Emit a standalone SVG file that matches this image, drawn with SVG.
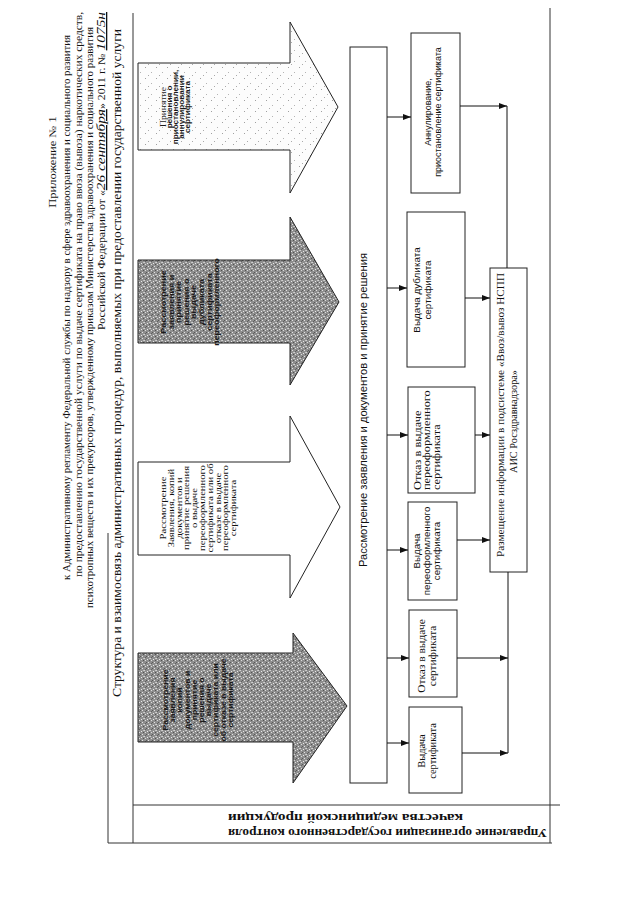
<svg xmlns="http://www.w3.org/2000/svg" width="640" height="905" viewBox="0 0 640 905">
<style>
.frame{stroke:#333;stroke-width:1;fill:none}
.box{fill:#fff;stroke:#222;stroke-width:1}
.conn{stroke:#111;stroke-width:1;fill:none}
.arr{marker-end:url(#ah)}
.serif{font-family:"Liberation Serif","Times New Roman",serif;fill:#111}
.sans{font-family:"Liberation Sans",Arial,sans-serif;fill:#111}
.hdr{font-size:10px}
.abold{font-weight:bold;fill:#1a1a1a}
.ashape{stroke:#222;stroke-width:1}
</style>
<defs>
<marker id="ah" viewBox="0 0 8 6" refX="8" refY="3" markerWidth="8" markerHeight="6" markerUnits="userSpaceOnUse" orient="auto">
<path d="M0,0 L8,3 L0,6 Z" fill="#111"/>
</marker>
<pattern id="dark" width="6" height="6" patternUnits="userSpaceOnUse">
<rect width="6" height="6" fill="#8e8e8e"/>
<rect x="1" y="0" width="1" height="1" fill="#dcdcdc"/>
<rect x="4" y="2" width="1" height="1" fill="#e4e4e4"/>
<rect x="0" y="4" width="1" height="1" fill="#d2d2d2"/>
<rect x="3" y="5" width="1" height="1" fill="#e8e8e8"/>
<rect x="5" y="4" width="1" height="1" fill="#c4c4c4"/>
<rect x="2" y="2" width="1" height="1" fill="#585858"/>
<rect x="5" y="0" width="1" height="1" fill="#525252"/>
<rect x="1" y="3" width="1" height="1" fill="#606060"/>
</pattern>
<pattern id="light" width="11" height="11" patternUnits="userSpaceOnUse">
<rect width="11" height="11" fill="#fcfcfc"/>
<rect x="2" y="1" width="1" height="1" fill="#a0a0a0"/>
<rect x="8" y="6" width="1" height="1" fill="#b4b4b4"/>
<rect x="5" y="9" width="1" height="1" fill="#aaaaaa"/>
</pattern>
</defs>
<rect width="640" height="905" fill="#fff"/>

<g id="header">
<text class="serif hdr" transform="translate(56,162) rotate(-90) scale(1.25,1)" text-anchor="middle">Приложение № 1</text>
<text class="serif hdr" transform="translate(70,580) rotate(-90)" textLength="545" lengthAdjust="spacingAndGlyphs">к Административному регламенту Федеральной службы по надзору в сфере здравоохранения и социального развития</text>
<text class="serif hdr" transform="translate(81.5,577) rotate(-90)" textLength="565" lengthAdjust="spacingAndGlyphs">по предоставлению государственной услуги по выдаче сертификата на право ввоза (вывоза) наркотических средств,</text>
<text class="serif hdr" transform="translate(93,608) rotate(-90)" textLength="581" lengthAdjust="spacingAndGlyphs">психотропных веществ и их прекурсоров, утвержденному приказом Министерства здравоохранения и социального развития</text>
<text class="serif hdr" transform="translate(105,330) rotate(-90)" textLength="318" lengthAdjust="spacingAndGlyphs">Российской Федерации  от «<tspan font-style="italic" font-size="13" text-decoration="underline">26 сентября</tspan>» 2011 г. № <tspan font-style="italic" font-size="13" text-decoration="underline">1075н</tspan></text>
<text class="serif" font-size="11.5" transform="translate(121,697) rotate(-90)" textLength="668" lengthAdjust="spacingAndGlyphs">Структура и взаимосвязь административных процедур, выполняемых при предоставлении государственной услуги</text>
</g>

<g id="frame">
<path class="frame" d="M133,13 V843 M550,8 V843 M108,533 V843 M133,805 H560 M108,843 H552"/>
</g>

<g id="label-dept">
<text class="serif" font-weight="bold" font-size="13" transform="translate(228,829) rotate(180)" text-anchor="end" textLength="319" lengthAdjust="spacingAndGlyphs">Управление организации государственного контроля</text>
<text class="serif" font-weight="bold" font-size="13" transform="translate(228,814) rotate(180)" text-anchor="end" textLength="235" lengthAdjust="spacingAndGlyphs">качества медицинской продукции</text>
</g>

<g id="arrow-suspend">
<polygon class="ashape" fill="url(#light)" points="138,63 290,63 290,22 338,107 290,193 290,150 138,150"/>
<text class="sans abold" font-size="6.8" transform="translate(166,107) rotate(-90) scale(1.2,1)" text-anchor="middle"><tspan x="0" y="0" font-size="8" font-weight="normal" font-family="Liberation Serif">Принятие</tspan><tspan x="0" y="6.3">решения о</tspan><tspan x="0" y="12.3">приостановлении,</tspan><tspan x="0" y="18.3">аннулировании</tspan><tspan x="0" y="24.3">сертификата</tspan></text>
</g>

<g id="arrow-duplicate">
<polygon class="ashape" fill="url(#dark)" points="138,260 290,260 290,217 339,302 290,385 290,343 138,343"/>
<text class="sans abold" font-size="7.5" transform="translate(166,302) rotate(-90) scale(1.2,1)" text-anchor="middle"><tspan x="0" y="0">Рассмотрение</tspan><tspan x="0" y="7.6">заявления и</tspan><tspan x="0" y="15.2">принятие</tspan><tspan x="0" y="22.8">решения о</tspan><tspan x="0" y="30.4">выдаче</tspan><tspan x="0" y="38">дубликата</tspan><tspan x="0" y="45.6">сертификата</tspan><tspan x="0" y="53.2">переоформленного</tspan></text>
</g>

<g id="arrow-reissue">
<polygon class="ashape" fill="#fff" points="138,462 290,462 290,416 340,507 290,598 290,555 138,555"/>
<text class="serif" font-size="8.5" transform="translate(166,508) rotate(-90) scale(1.25,1)" text-anchor="middle"><tspan x="0" y="0">Рассмотрение</tspan><tspan x="0" y="7.8">Заявления, копий</tspan><tspan x="0" y="15.6">документов и</tspan><tspan x="0" y="23.4">принятие решения</tspan><tspan x="0" y="31.2">о выдаче</tspan><tspan x="0" y="39">переоформленного</tspan><tspan x="0" y="46.8">сертификата или об</tspan><tspan x="0" y="54.6">отказе в выдаче</tspan><tspan x="0" y="62.4">переоформленного</tspan><tspan x="0" y="70.2">сертификата</tspan></text>
</g>

<g id="arrow-issue">
<polygon class="ashape" fill="url(#dark)" points="138,653 293,653 293,633 347,706 293,783 293,742 138,742"/>
<text class="sans abold" font-size="7.2" transform="translate(168,700) rotate(-90) scale(1.2,1)" text-anchor="middle"><tspan x="0" y="0">Рассмотрение</tspan><tspan x="0" y="7.2">заявления</tspan><tspan x="0" y="14.4">копий</tspan><tspan x="0" y="21.6">документов и</tspan><tspan x="0" y="28.8">принятие</tspan><tspan x="0" y="36">решения о</tspan><tspan x="0" y="43.2">выдаче</tspan><tspan x="0" y="50.4">сертификата или</tspan><tspan x="0" y="57.6">об отказе в выдаче</tspan><tspan x="0" y="64.8">сертификата</tspan></text>
</g>

<g id="review">
<rect class="box" x="350" y="47" width="37" height="736"/>
<text class="sans" font-size="11" transform="translate(367,567) rotate(-90)" textLength="314" lengthAdjust="spacingAndGlyphs">Рассмотрение заявления и документов и принятие решения</text>
</g>

<g id="annul">
<rect class="box" x="411" y="33" width="49" height="160"/>
<text class="sans" font-size="9" transform="translate(431,112) rotate(-90)" text-anchor="middle"><tspan x="0" y="0">Аннулирование,</tspan><tspan x="0" y="10">приостановление сертификата</tspan></text>
</g>

<g id="dup">
<rect class="box" x="407" y="212" width="58" height="155"/>
<text class="sans" font-size="9" transform="translate(420,290) rotate(-90) scale(1.1,1)" text-anchor="middle"><tspan x="0" y="0">Выдача дубликата</tspan><tspan x="0" y="11">сертификата</tspan></text>
</g>

<g id="refuse-reissue">
<rect class="box" x="408" y="387" width="67" height="106"/>
<text class="serif" font-size="9.5" transform="translate(420.5,490) rotate(-90) scale(1.3,1)"><tspan x="0" y="0">Отказ в выдаче</tspan><tspan x="0" y="10">переоформленного</tspan><tspan x="0" y="20">сертификата</tspan></text>
</g>

<g id="issue-reissue">
<rect class="box" x="408" y="502" width="49" height="98"/>
<text class="sans" font-size="8.5" transform="translate(420,551) rotate(-90) scale(1.15,1)" text-anchor="middle"><tspan x="0" y="0">Выдача</tspan><tspan x="0" y="10">переоформленного</tspan><tspan x="0" y="20">сертификата</tspan></text>
</g>

<g id="refuse">
<rect class="box" x="409" y="610" width="48" height="87"/>
<text class="serif" font-size="9.5" transform="translate(425,656) rotate(-90) scale(1.2,1)" text-anchor="middle"><tspan x="0" y="0">Отказ в выдаче</tspan><tspan x="0" y="11">сертификата</tspan></text>
</g>

<g id="issue">
<rect class="box" x="409" y="707" width="53" height="86"/>
<text class="serif" font-size="9.5" transform="translate(425,751) rotate(-90) scale(1.1,1)" text-anchor="middle"><tspan x="0" y="0">Выдача</tspan><tspan x="0" y="11">сертификата</tspan></text>
</g>

<g id="publish">
<rect class="box" x="490" y="268" width="37" height="304"/>
<text class="serif" font-size="11" transform="translate(504,557) rotate(-90)" textLength="284" lengthAdjust="spacingAndGlyphs">Размещение информации в подсистеме «Ввоз/вывоз НСПП</text>
<text class="serif" font-size="11" transform="translate(517,473) rotate(-90)" textLength="103" lengthAdjust="spacingAndGlyphs">АИС Росздравнадзора»</text>
</g>

<g id="connectors">
<path class="conn arr" d="M387,117 H411"/>
<path class="conn arr" d="M387,288 H407"/>
<path class="conn arr" d="M387,435 H408"/>
<path class="conn arr" d="M387,550 H408"/>
<path class="conn arr" d="M387,658 H409"/>
<path class="conn arr" d="M387,743 H409"/>
<path class="conn arr" d="M465,298 H490"/>
<path class="conn arr" d="M475,435 H490"/>
<path class="conn arr" d="M457,540 H490"/>
<path class="conn arr" d="M460,106 H507"/>
<path class="conn" d="M507,106 V268"/>
<path class="conn arr" d="M457,658 H508"/>
<path class="conn arr" d="M462,753 H508"/>
<path class="conn" d="M508,572 V753"/>
</g>
</svg>
